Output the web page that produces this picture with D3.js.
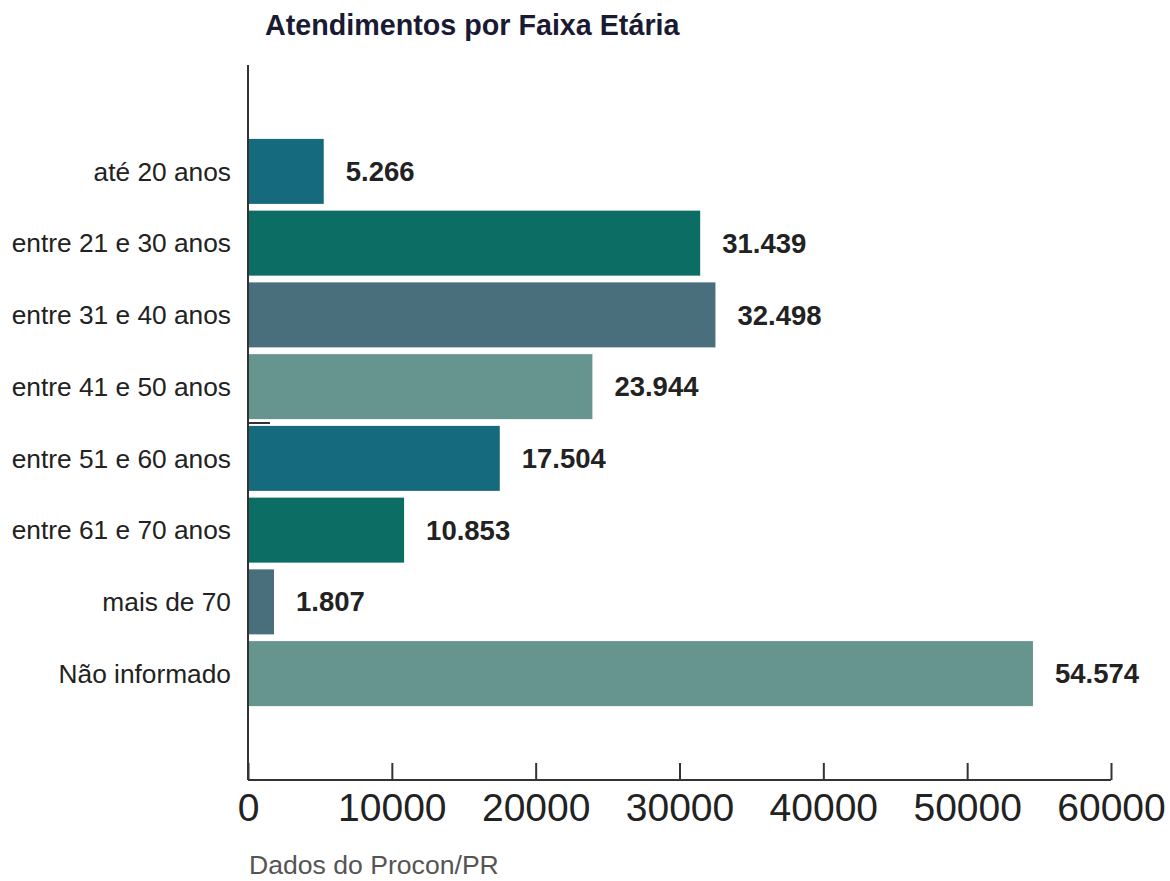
<!DOCTYPE html>
<html><head><meta charset="utf-8">
<script src="https://cdn.jsdelivr.net/npm/d3@7"></script>
<style>body{margin:0;background:#fff;} svg{display:block;font-family:"Liberation Sans",Arial,Helvetica,sans-serif;}</style>
</head><body>
<svg id="c" width="1170" height="881"></svg>
<script>
const categories = ["até 20 anos","entre 21 e 30 anos","entre 31 e 40 anos","entre 41 e 50 anos","entre 51 e 60 anos","entre 61 e 70 anos","mais de 70","Não informado"];
const values = [5266,31439,32498,23944,17504,10853,1807,54574];
const valueLabels = ["5.266","31.439","32.498","23.944","17.504","10.853","1.807","54.574"];
const palette = ["#166a7e","#0c6d65","#4a6f7c","#66948f"];
const xTicks = [0,10000,20000,30000,40000,50000,60000];

const svg = d3.select("#c");
const x = d3.scaleLinear().domain([0,60000]).range([248,1111]);
const y = d3.scaleBand().domain(categories).range([65,780]).paddingInner(0.094).paddingOuter(1.03);

svg.append("text").attr("x",265).attr("y",35).attr("font-size",28.7).attr("font-weight","bold").attr("fill","#1a1a33").text("Atendimentos por Faixa Etária");

svg.selectAll("rect.bar").data(values).join("rect").attr("class","bar")
  .attr("x",x(0)).attr("y",(d,i)=>y(categories[i])).attr("width",d=>x(d)-x(0)).attr("height",y.bandwidth())
  .attr("fill",(d,i)=>palette[i%4]);

svg.selectAll("text.val").data(values).join("text").attr("class","val")
  .attr("x",d=>x(d)+22).attr("y",(d,i)=>y(categories[i])+y.bandwidth()/2).attr("dy","0.35em")
  .attr("font-size",27.5).attr("font-weight","bold").attr("fill","#222").text((d,i)=>valueLabels[i]);

svg.selectAll("text.cat").data(categories).join("text").attr("class","cat")
  .attr("x",231).attr("y",d=>y(d)+y.bandwidth()/2).attr("dy","0.35em").attr("text-anchor","end")
  .attr("font-size",26.3).attr("fill","#222").text(d=>d);

// y axis line
svg.append("line").attr("x1",248).attr("x2",248).attr("y1",65).attr("y2",780).attr("stroke","#333").attr("stroke-width",2);
// small stub
svg.append("line").attr("x1",249).attr("x2",270).attr("y1",423).attr("y2",423).attr("stroke","#333").attr("stroke-width",2);

const xAxis = svg.append("g").attr("transform","translate(0,780)")
  .call(d3.axisBottom(x).tickValues(xTicks).tickSize(-17).tickPadding(25).tickFormat(d3.format("d")));
xAxis.select(".domain").attr("stroke","#333").attr("stroke-width",2).attr("d","M248,0H1111");
xAxis.selectAll(".tick line").attr("stroke","#333").attr("stroke-width",2);
xAxis.selectAll(".tick text").attr("font-size",39).attr("fill","#222").attr("font-family","'Liberation Sans',Arial,sans-serif").attr("dy","0.71em").attr("y",13);

svg.append("text").attr("x",249).attr("y",874).attr("font-size",26.6).attr("fill","#555").text("Dados do Procon/PR");
</script>
</body></html>
